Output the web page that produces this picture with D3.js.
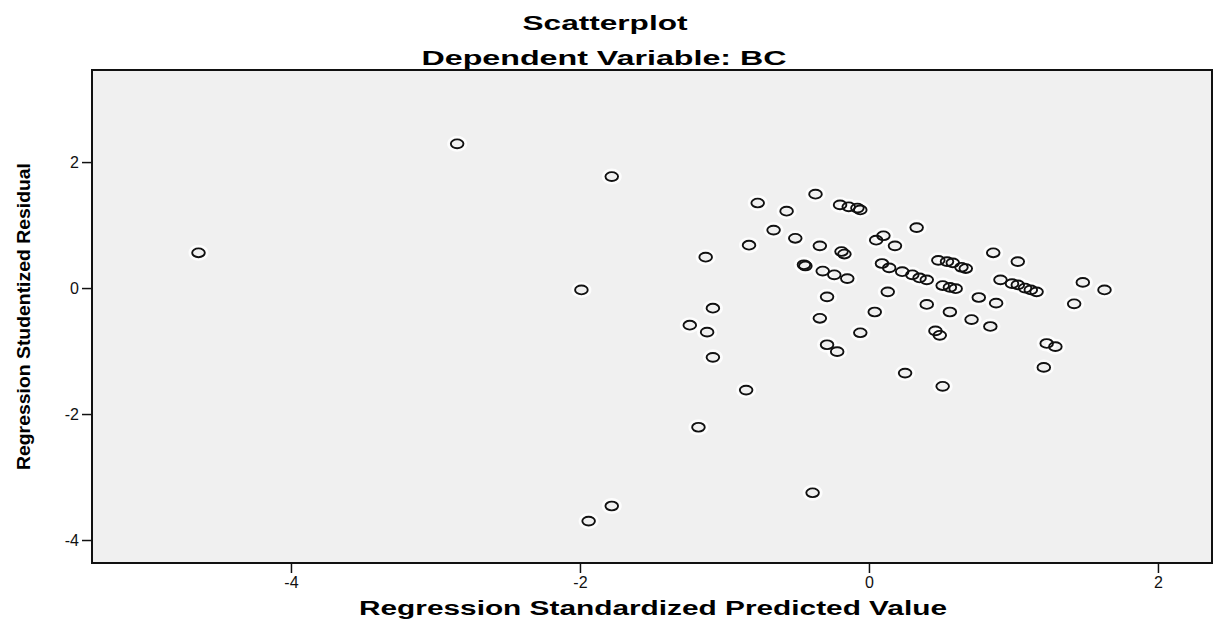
<!DOCTYPE html>
<html>
<head>
<meta charset="utf-8">
<script src="https://cdn.jsdelivr.net/npm/d3@7"></script>
<style>
    body { margin: 0; background: #ffffff; }
    .title { font-family: Arial, "Liberation Sans", sans-serif; font-weight: bold; fill: #000; }
</style>
</head>
<body>
<script>
// Regression standardized predicted value (x) and studentized residual (y)
var predicted = [-2.85, -1.78, -4.64, -1.99, -1.13, -0.83, -0.77, -0.57, -0.37, -0.20,
    -0.14, -0.08, -0.06, 0.33, -0.66, -0.51, -0.34, -0.19, -0.17, 0.05,
    0.10, 0.18, -0.45, -0.44, -0.32, -0.24, -0.15, 0.09, 0.14, 0.23,
    0.30, 0.35, 0.40, 0.48, 0.54, 0.58, 0.64, 0.67, 0.51, 0.56,
    0.60, 0.86, 1.03, 0.91, 0.99, 1.03, 1.08, 1.12, 1.16, 1.48,
    1.63, 1.42, 0.13, -0.29, -1.08, -0.34, 0.04, 0.40, 0.56, 0.76,
    0.88, 0.71, 0.84, 0.46, 0.49, 1.23, 1.29, 1.21, 0.25, 0.51,
    -1.12, -1.08, -0.85, -0.29, -0.22, -0.06, -1.24, -1.18, -1.78, -1.94,
    -0.39];
var residual = [2.29, 1.77, 0.56, -0.03, 0.49, 0.68, 1.35, 1.22, 1.49, 1.32,
    1.29, 1.27, 1.24, 0.96, 0.92, 0.79, 0.67, 0.58, 0.54, 0.76,
    0.83, 0.67, 0.37, 0.35, 0.27, 0.21, 0.15, 0.39, 0.32, 0.26,
    0.21, 0.16, 0.13, 0.44, 0.42, 0.40, 0.33, 0.31, 0.04, 0.01,
    -0.01, 0.56, 0.42, 0.13, 0.07, 0.05, 0.00, -0.03, -0.06, 0.09,
    -0.03, -0.25, -0.06, -0.14, -0.32, -0.48, -0.38, -0.26, -0.38, -0.15,
    -0.24, -0.50, -0.61, -0.68, -0.75, -0.88, -0.93, -1.26, -1.35, -1.56,
    -0.70, -1.10, -1.62, -0.90, -1.01, -0.71, -0.59, -2.21, -3.46, -3.70,
    -3.25];
var xTicks = [-4, -2, 0, 2];
var yTicks = [2, 0, -2, -4];
var xDomain = [-5.377, 2.374];
var yDomain = [-4.365, 3.43];

var titleText = 'Scatterplot',
    subTitleText = 'Dependent Variable: BC',
    xLabelText = 'Regression Standardized Predicted Value',
    yLabelText = 'Regression Studentized Residual';

// Frame dimensions
var width = 1217,
    height = 624,
    frameLeft = 92,
    frameRight = 1212,
    frameTop = 70,
    frameBottom = 563;

var svg = d3.select('body')
    .append('svg')
    .attr('width', width)
    .attr('height', height);

var xScale = d3.scaleLinear()
    .domain(xDomain)
    .range([frameLeft, frameRight]);

var yScale = d3.scaleLinear()
    .domain(yDomain)
    .range([frameBottom, 72]);

// Plot background and frame
svg.append('rect')
    .attr('x', frameLeft)
    .attr('y', frameTop)
    .attr('width', frameRight - frameLeft)
    .attr('height', frameBottom - frameTop)
    .style('fill', '#f0f0f0')
    .style('stroke', '#111')
    .style('stroke-width', 2);

// Axes
var xAxis = d3.axisBottom(xScale)
    .tickValues(xTicks)
    .tickSize(9)
    .tickPadding(4)
    .tickFormat(d3.format('d'));

var yAxis = d3.axisLeft(yScale)
    .tickValues(yTicks)
    .tickSize(9)
    .tickPadding(3)
    .tickFormat(d3.format('d'));

var gx = svg.append('g')
    .attr('transform', 'translate(0,' + (frameBottom + 1) + ')')
    .call(xAxis);

var gy = svg.append('g')
    .attr('transform', 'translate(' + (frameLeft - 1) + ',0)')
    .call(yAxis);

[gx, gy].forEach(function (g) {
    g.attr('font-size', 16).attr('font-family', 'Arial, "Liberation Sans", sans-serif');
    g.select('.domain').remove();
    g.selectAll('line').style('stroke', '#111').style('stroke-width', 1.5);
    g.selectAll('text')
        .style('fill', '#111')
        .text(function (d) { return d < 0 ? '-' + Math.abs(d) : d; });
});

// Points: white halo then black ring
var points = predicted.map(function (d, i) {
    return { x: d, y: residual[i] };
});

svg.append('g')
    .selectAll('.halo')
    .data(points)
    .enter()
    .append('ellipse')
    .attr('class', 'halo')
    .attr('cx', function (d) { return xScale(d.x); })
    .attr('cy', function (d) { return yScale(d.y); })
    .attr('rx', 7.5)
    .attr('ry', 5.5)
    .style('fill', 'none')
    .style('stroke', '#ffffff')
    .style('stroke-width', 5)
    .style('opacity', 0.85);

svg.append('g')
    .selectAll('.dot')
    .data(points)
    .enter()
    .append('ellipse')
    .attr('class', 'dot')
    .attr('cx', function (d) { return xScale(d.x); })
    .attr('cy', function (d) { return yScale(d.y); })
    .attr('rx', 6.3)
    .attr('ry', 4.4)
    .style('fill', 'none')
    .style('stroke', '#111')
    .style('stroke-width', 1.9);

// Titles and axis labels
svg.append('text')
    .attr('class', 'title')
    .attr('x', 605)
    .attr('y', 30)
    .attr('text-anchor', 'middle')
    .attr('font-size', 20)
    .attr('textLength', 165)
    .attr('lengthAdjust', 'spacingAndGlyphs')
    .text(titleText);

svg.append('text')
    .attr('class', 'title')
    .attr('x', 604)
    .attr('y', 65)
    .attr('text-anchor', 'middle')
    .attr('font-size', 20)
    .attr('textLength', 365)
    .attr('lengthAdjust', 'spacingAndGlyphs')
    .text(subTitleText);

svg.append('text')
    .attr('class', 'title')
    .attr('x', 653)
    .attr('y', 615)
    .attr('text-anchor', 'middle')
    .attr('font-size', 20)
    .attr('textLength', 588)
    .attr('lengthAdjust', 'spacingAndGlyphs')
    .text(xLabelText);

svg.append('text')
    .attr('class', 'title')
    .attr('transform', 'translate(30,' + ((frameTop + frameBottom) / 2) + ') rotate(-90)')
    .attr('text-anchor', 'middle')
    .attr('font-size', 19)
    .attr('textLength', 307)
    .attr('lengthAdjust', 'spacingAndGlyphs')
    .text(yLabelText);
</script>
</body>
</html>
